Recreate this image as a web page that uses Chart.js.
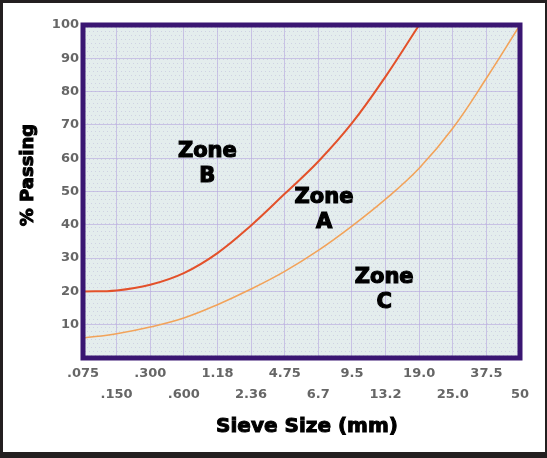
<!DOCTYPE html>
<html>
<head>
<meta charset="utf-8">
<script src="https://cdn.jsdelivr.net/npm/chart.js@4.4.1/dist/chart.umd.min.js"></script>
<style>
  html, body { margin: 0; padding: 0; background: #231f20; }
  #frame { position: absolute; left: 3px; top: 3px; width: 542px; height: 449px; background: #fff; }
  canvas { display: block; }
</style>
</head>
<body>
<div id="frame"><canvas id="grading" width="542" height="449"></canvas></div>
<script>
// sieve sizes (mm), evenly spaced along the x axis
const sieveSizes = [".075", ".150", ".300", ".600", "1.18", "2.36", "4.75", "6.7", "9.5", "13.2", "19.0", "25.0", "37.5", "50"];
// % passing for the two zone boundaries
const upperLimit = [20, 20.3, 22, 25.5, 31.5, 39.8, 49.3, 59, 70.5, 84.5, 100, null, null, null];
const lowerLimit = [6, 7.3, 9.3, 12, 16, 20.7, 26, 32.3, 39.6, 47.7, 57, 69, 84, 100];
const yTicks = [10, 20, 30, 40, 50, 60, 70, 80, 90, 100];
// zone names, placed at (sieve index, % passing)
const zoneNames = [["Zone", "B"], ["Zone", "A"], ["Zone", "C"]];
const zoneX = [3.7, 7.17, 8.96];
const zoneY = [58.4, 44.6, 20.7];

const plotBox = {
    id: "plotBox",
    beforeDraw(chart) {
        const { ctx, chartArea: a } = chart;
        ctx.save();
        ctx.fillStyle = "#e4eded";
        ctx.fillRect(a.left, a.top, a.width, a.height);
        // dotted texture
        ctx.fillStyle = "rgba(170,160,210,0.35)";
        for (let y = a.top + 2; y < a.bottom; y += 4) {
            for (let x = a.left + ((y / 4) % 2 ? 2 : 0); x < a.right; x += 4) {
                ctx.fillRect(x, y, 1, 1);
            }
        }
        ctx.restore();
    },
    afterDraw(chart) {
        const { ctx, chartArea: a, scales } = chart;
        ctx.save();
        ctx.strokeStyle = "#3a1672";
        ctx.lineWidth = 5;
        ctx.strokeRect(a.left, a.top, a.width, a.height);

        // zone names
        ctx.fillStyle = "#000";
        ctx.strokeStyle = "#000";
        ctx.lineWidth = 1.2;
        ctx.font = "bold 21px 'DejaVu Sans'";
        ctx.textAlign = "center";
        ctx.textBaseline = "middle";
        zoneNames.forEach((lines, i) => {
            const x = scales.x.getPixelForValue(zoneX[i]);
            const y = scales.y.getPixelForValue(zoneY[i]);
            ctx.fillText(lines[0], x, y - 12);
            ctx.strokeText(lines[0], x, y - 12);
            ctx.fillText(lines[1], x, y + 13);
            ctx.strokeText(lines[1], x, y + 13);
        });

        // axis titles
        ctx.lineWidth = 1;
        ctx.font = "bold 20px 'DejaVu Sans'";
        ctx.fillText("Sieve Size (mm)", 304, 424);
        ctx.strokeText("Sieve Size (mm)", 304, 424);
        ctx.translate(25, 172);
        ctx.rotate(-Math.PI / 2);
        ctx.font = "bold 18px 'DejaVu Sans'";
        ctx.fillText("% Passing", 0, 0);
        ctx.strokeText("% Passing", 0, 0);
        ctx.restore();
    }
};

const ctx = document.getElementById("grading").getContext("2d");
new Chart(ctx, {
    type: "line",
    data: {
        labels: sieveSizes,
        datasets: [
            {
                label: "Upper",
                data: upperLimit,
                borderColor: "#e3512a",
                borderWidth: 2,
                pointRadius: 0,
                tension: 0.4,
                spanGaps: false
            },
            {
                label: "Lower",
                data: lowerLimit,
                borderColor: "#f2a35a",
                borderWidth: 1.6,
                pointRadius: 0,
                tension: 0.4
            }
        ]
    },
    options: {
        responsive: false,
        animation: false,
        layout: { padding: { top: 22, right: 25 } },
        plugins: {
            legend: { display: false },
            tooltip: { enabled: false }
        },
        scales: {
            x: {
                offset: false,
                grid: { color: "rgba(185,170,222,0.65)", drawTicks: false },
                border: { display: false },
                ticks: {
                    autoSkip: false,
                    maxRotation: 0,
                    padding: 6,
                    color: "#666",
                    font: { family: "DejaVu Sans", weight: "bold", size: 13, lineHeight: 1.55 },
                    callback: (v, i) => i % 2 === 0 ? [sieveSizes[i], ""] : ["", sieveSizes[i]]
                },
                afterFit: s => { s.height = 94; }
            },
            y: {
                min: 0,
                max: 100,
                grid: { color: "rgba(185,170,222,0.65)", drawTicks: false },
                border: { display: false },
                afterBuildTicks: s => { s.ticks = [0].concat(yTicks).map(v => ({ value: v })); },
                ticks: {
                    padding: 4,
                    color: "#666",
                    font: { family: "DejaVu Sans", weight: "bold", size: 13 },
                    callback: v => v === 0 ? "" : v
                },
                afterFit: s => { s.width = 80; }
            }
        }
    },
    plugins: [plotBox]
});
</script>
</body>
</html>
